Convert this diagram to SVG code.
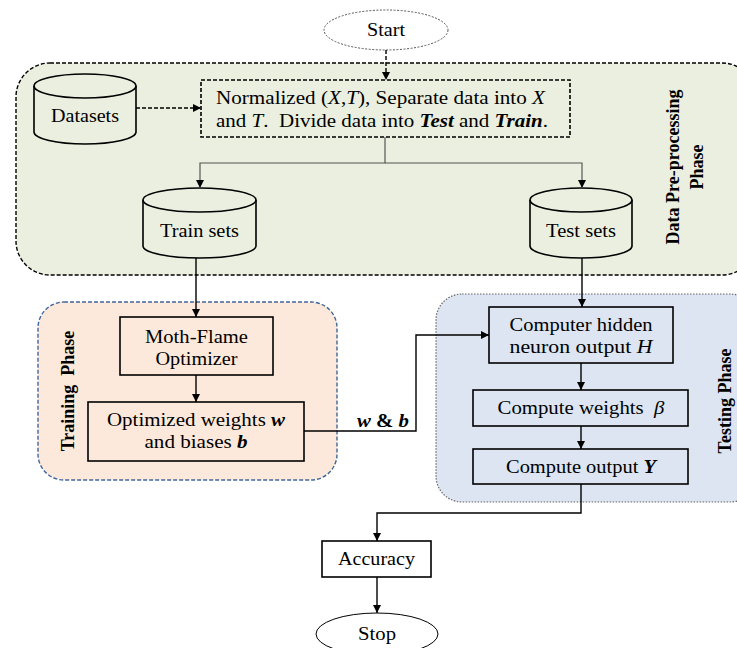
<svg xmlns="http://www.w3.org/2000/svg" width="737" height="648" viewBox="0 0 737 648">
<defs>
<marker id="ah" viewBox="0 0 10 10" refX="10" refY="5" markerWidth="8" markerHeight="8" markerUnits="userSpaceOnUse" orient="auto"><path d="M0,0 L10,5 L0,10 z" fill="#000"/></marker>
<style>
text{font-family:"Liberation Serif","Times New Roman",serif;font-size:18px;fill:#000}
.box{fill:none;stroke:#000;stroke-width:1.6}
.line{fill:none;stroke:#000;stroke-width:1.4}
.thin{stroke:#555;stroke-width:1.2}
.dash{stroke-dasharray:4 2}
.ph{font-weight:bold;font-size:18px;text-anchor:middle}
.i{font-style:italic}
.bi{font-style:italic;font-weight:bold}
</style>
</defs>
<rect width="737" height="648" fill="#fff"/>

<g id="phase-preprocessing">
<rect x="16" y="63" width="740" height="212" rx="34" fill="#ebefdf" stroke="#000" stroke-width="1.4" stroke-dasharray="4 2"/>
<text class="ph" transform="translate(679,167) rotate(-90)">Data Pre-processing</text>
<text class="ph" transform="translate(703,167) rotate(-90)">Phase</text>
</g>
<g id="phase-training">
<rect x="38" y="302" width="299" height="178" rx="26" fill="#fde9db" stroke="#41679a" stroke-width="1.4" stroke-dasharray="4 2"/>
<text class="ph" font-size="17" transform="translate(74,391) rotate(-90)" xml:space="preserve">Training  Phase</text>
</g>
<g id="phase-testing">
<rect x="436" y="294" width="320" height="208" rx="26" fill="#dce5f1" stroke="#666" stroke-width="1.2" stroke-dasharray="1.5 1.5"/>
<text class="ph" transform="translate(731,401) rotate(-90)">Testing Phase</text>
</g>

<g id="start">
<ellipse cx="386" cy="30" rx="62" ry="20" fill="#fff" stroke="#555" stroke-width="1" stroke-dasharray="2 1.5"/>
<text x="367" y="36" textLength="38" lengthAdjust="spacingAndGlyphs">Start</text>
</g>
<g id="datasets">
<path d="M34,86 A51,12 0 0 1 136,86 L136,132 A51,12 0 0 1 34,132 Z" fill="#ebefdf" stroke="#000" stroke-width="1.6"/>
<path d="M34,86 A51,12 0 0 0 136,86" class="box"/>
<text x="51" y="122" textLength="68" lengthAdjust="spacingAndGlyphs">Datasets</text>
</g>
<g id="normalize">
<rect x="201" y="80" width="369" height="57" fill="none" stroke="#000" stroke-width="1.6" stroke-dasharray="4 2"/>
<text x="216" y="104" textLength="329" lengthAdjust="spacingAndGlyphs">Normalized (<tspan class="i">X</tspan>,<tspan class="i">T</tspan>), Separate data into <tspan class="i">X</tspan></text>
<text x="216" y="127" textLength="332" lengthAdjust="spacingAndGlyphs" xml:space="preserve">and <tspan class="i">T</tspan>.  Divide data into <tspan class="bi">Test</tspan> and <tspan class="bi">Train</tspan>.</text>
</g>
<g id="train-sets">
<path d="M143,200 A56.5,12 0 0 1 256,200 L256,246 A56.5,12 0 0 1 143,246 Z" fill="#ebefdf" stroke="#000" stroke-width="1.6"/>
<path d="M143,200 A56.5,12 0 0 0 256,200" class="box"/>
<text x="160" y="237" textLength="79" lengthAdjust="spacingAndGlyphs">Train sets</text>
</g>
<g id="test-sets">
<path d="M530,200 A51,12 0 0 1 632,200 L632,246 A51,12 0 0 1 530,246 Z" fill="#ebefdf" stroke="#000" stroke-width="1.6"/>
<path d="M530,200 A51,12 0 0 0 632,200" class="box"/>
<text x="546" y="237" textLength="70" lengthAdjust="spacingAndGlyphs">Test sets</text>
</g>
<g id="mfo">
<rect x="120" y="317" width="153" height="58" class="box"/>
<text x="145" y="343" textLength="103" lengthAdjust="spacingAndGlyphs">Moth-Flame</text>
<text x="155.5" y="365" textLength="82" lengthAdjust="spacingAndGlyphs">Optimizer</text>
</g>
<g id="optimized">
<rect x="88" y="402" width="216" height="59" class="box"/>
<text x="107" y="426" textLength="178" lengthAdjust="spacingAndGlyphs">Optimized weights <tspan class="bi">w</tspan></text>
<text x="144.5" y="448" textLength="103" lengthAdjust="spacingAndGlyphs">and biases <tspan class="bi">b</tspan></text>
</g>
<g id="hidden">
<rect x="489" y="307" width="184" height="56" class="box"/>
<text x="509.5" y="331" textLength="143" lengthAdjust="spacingAndGlyphs">Computer hidden</text>
<text x="509.5" y="353" textLength="143" lengthAdjust="spacingAndGlyphs">neuron output <tspan class="i">H</tspan></text>
</g>
<g id="weights">
<rect x="473" y="390" width="215" height="36" class="box"/>
<text x="497.5" y="414" textLength="167" lengthAdjust="spacingAndGlyphs" xml:space="preserve">Compute weights  <tspan class="i">β</tspan></text>
</g>
<g id="output">
<rect x="473" y="449" width="215" height="35" class="box"/>
<text x="506" y="473" textLength="150" lengthAdjust="spacingAndGlyphs">Compute output <tspan class="bi">Y</tspan></text>
</g>
<g id="accuracy">
<rect x="322" y="541" width="109" height="36" fill="#fff" stroke="#000" stroke-width="1.6"/>
<text x="338" y="565" textLength="77" lengthAdjust="spacingAndGlyphs">Accuracy</text>
</g>
<g id="stop">
<ellipse cx="377" cy="634" rx="61" ry="21" fill="#fff" stroke="#000" stroke-width="1"/>
<text x="358" y="640" textLength="38" lengthAdjust="spacingAndGlyphs">Stop</text>
</g>

<g id="connectors">
<line x1="386" y1="50" x2="386" y2="80" class="line dash" marker-end="url(#ah)"/>
<line x1="136" y1="108" x2="201" y2="108" class="line dash" marker-end="url(#ah)"/>
<polyline points="385,137 385,163 200,163 200,188" class="line thin" marker-end="url(#ah)"/>
<polyline points="385,163 582,163 582,188" class="line thin" marker-end="url(#ah)"/>
<line x1="196" y1="258" x2="196" y2="317" class="line" marker-end="url(#ah)"/>
<line x1="582" y1="258" x2="582" y2="307" class="line" marker-end="url(#ah)"/>
<line x1="196" y1="375" x2="196" y2="402" class="line" marker-end="url(#ah)"/>
<polyline points="304,431 416,431 416,335 489,335" class="line" marker-end="url(#ah)"/>
<text x="357" y="427" font-weight="bold" textLength="52" lengthAdjust="spacingAndGlyphs"><tspan class="bi">w</tspan> &amp; <tspan class="bi">b</tspan></text>
<line x1="581" y1="363" x2="581" y2="390" class="line" marker-end="url(#ah)"/>
<line x1="581" y1="426" x2="581" y2="449" class="line" marker-end="url(#ah)"/>
<polyline points="581,484 581,513 377,513 377,541" class="line" marker-end="url(#ah)"/>
<line x1="377" y1="577" x2="377" y2="613" class="line" marker-end="url(#ah)"/>
</g>
</svg>
